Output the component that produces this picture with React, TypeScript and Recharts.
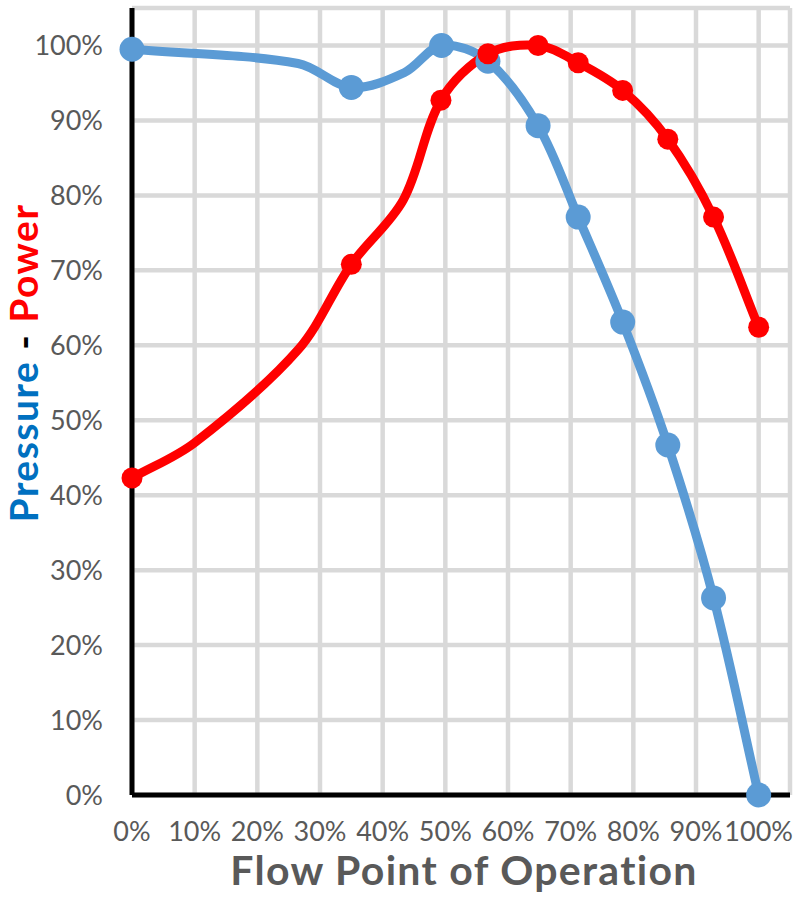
import React from 'react';
import { LineChart, Line, XAxis, YAxis, CartesianGrid } from 'recharts';

// Pressure series: flow (% of max), value (%), marker shown (false = smoothing point without marker)
const pressureFlow = [0, 26.5, 35, 43.5, 49.4, 56.8, 64.8, 71.2, 78.3, 85.5, 92.8, 100];
const pressureValues = [99.5, 97.6, 94.4, 96.4, 100, 97.9, 89.3, 77.1, 63.1, 46.7, 26.3, 0];
const pressureMarker = [true, false, true, false, true, true, true, true, true, true, true, true];

// Power series
const powerFlow = [0, 10, 26.5, 35, 43.3, 49.3, 56.8, 64.8, 71.2, 78.3, 85.5, 92.8, 100];
const powerValues = [42.3, 47.0, 59.4, 70.8, 79.4, 92.7, 98.9, 100, 97.7, 94, 87.5, 77.1, 62.4];
const powerMarker = [true, false, false, true, false, true, true, true, true, true, true, true, true];

const tickValues = [0, 10, 20, 30, 40, 50, 60, 70, 80, 90, 100];

const pressureData = pressureFlow.map((f, i) => ({ flow: f, pressure: pressureValues[i], marker: pressureMarker[i] }));
const powerData = powerFlow.map((f, i) => ({ flow: f, power: powerValues[i], marker: powerMarker[i] }));

// Smooth curve through points (chord-length Catmull-Rom as cubic Bezier)
const smoothCurve: any = (context: any) => {
  let pts: number[][] = [];
  const dist = (a: number[], b: number[]) => Math.hypot(b[0] - a[0], b[1] - a[1]);
  return {
    areaStart() {},
    areaEnd() {},
    lineStart() { pts = []; },
    point(x: number, y: number) { pts.push([+x, +y]); },
    lineEnd() {
      const n = pts.length;
      if (!n) return;
      context.moveTo(pts[0][0], pts[0][1]);
      for (let i = 0; i < n - 1; i++) {
        const p0 = pts[i - 1] || pts[i];
        const p1 = pts[i];
        const p2 = pts[i + 1];
        const p3 = pts[i + 2] || p2;
        const d01 = dist(p0, p1);
        const d12 = dist(p1, p2) || 1;
        const d23 = dist(p2, p3);
        const s1 = d12 / 3 / (d01 + d12);
        const s2 = d12 / 3 / (d12 + d23);
        context.bezierCurveTo(
          p1[0] + (p2[0] - p0[0]) * s1, p1[1] + (p2[1] - p0[1]) * s1,
          p2[0] - (p3[0] - p1[0]) * s2, p2[1] - (p3[1] - p1[1]) * s2,
          p2[0], p2[1]
        );
      }
    },
  };
};

const FONT = 'Lato, "Open Sans", sans-serif';

const makeDot = (color: string, r: number) => (props: any) => {
  const { cx, cy, payload, index } = props;
  if (!payload || !payload.marker) return <g key={`d${index}`} />;
  return <circle key={`d${index}`} cx={cx} cy={cy} r={r} fill={color} stroke="none" />;
};

export default function App() {
  return (
    <div style={{ position: 'absolute', left: 0, top: 0, width: 797, height: 902, background: '#fff' }}>
      <LineChart width={797} height={902} margin={{ top: 8, right: 7, left: 0, bottom: 0 }}>
        <CartesianGrid stroke="#d9d9d9" strokeWidth={4.5} horizontal vertical />
        <XAxis
          dataKey="flow"
          type="number"
          domain={[0, 105]}
          ticks={tickValues}
          tickFormatter={(v: number) => `${v}%`}
          height={107}
          tickSize={0}
          tickMargin={27}
          axisLine={{ stroke: '#000', strokeWidth: 5 }}
          tick={{ fill: '#595959', fontSize: 27, fontFamily: FONT }}
          interval={0}
          allowDuplicatedCategory={false}
        />
        <YAxis
          type="number"
          domain={[0, 105]}
          ticks={tickValues}
          tickFormatter={(v: number) => `${v}%`}
          width={132}
          tickSize={0}
          tickMargin={29}
          axisLine={{ stroke: '#000', strokeWidth: 5 }}
          tick={{ fill: '#595959', fontSize: 27, fontFamily: FONT }}
          interval={0}
        />
        <Line
          data={pressureData}
          dataKey="pressure"
          type={smoothCurve}
          stroke="#5b9bd5"
          strokeWidth={9}
          dot={makeDot('#5b9bd5', 12.5)}
          activeDot={false}
          isAnimationActive={false}
        />
        <Line
          data={powerData}
          dataKey="power"
          type={smoothCurve}
          stroke="#ff0000"
          strokeWidth={9}
          dot={makeDot('#ff0000', 10.5)}
          activeDot={false}
          isAnimationActive={false}
        />
        <text x={464} y={885} textAnchor="middle" fill="#595959" fontSize={41} letterSpacing={1.3} fontWeight="bold" fontFamily={FONT}>
          Flow Point of Operation
        </text>
        <text
          x={38}
          y={363}
          textAnchor="middle"
          transform="rotate(-90, 38, 363)"
          fontSize={39}
          letterSpacing={1.5}
          fontWeight="bold"
          fontFamily={FONT}
        >
          <tspan fill="#0070c0">Pressure</tspan>
          <tspan fill="#000"> - </tspan>
          <tspan fill="#ff0000">Power</tspan>
        </text>
      </LineChart>
    </div>
  );
}
